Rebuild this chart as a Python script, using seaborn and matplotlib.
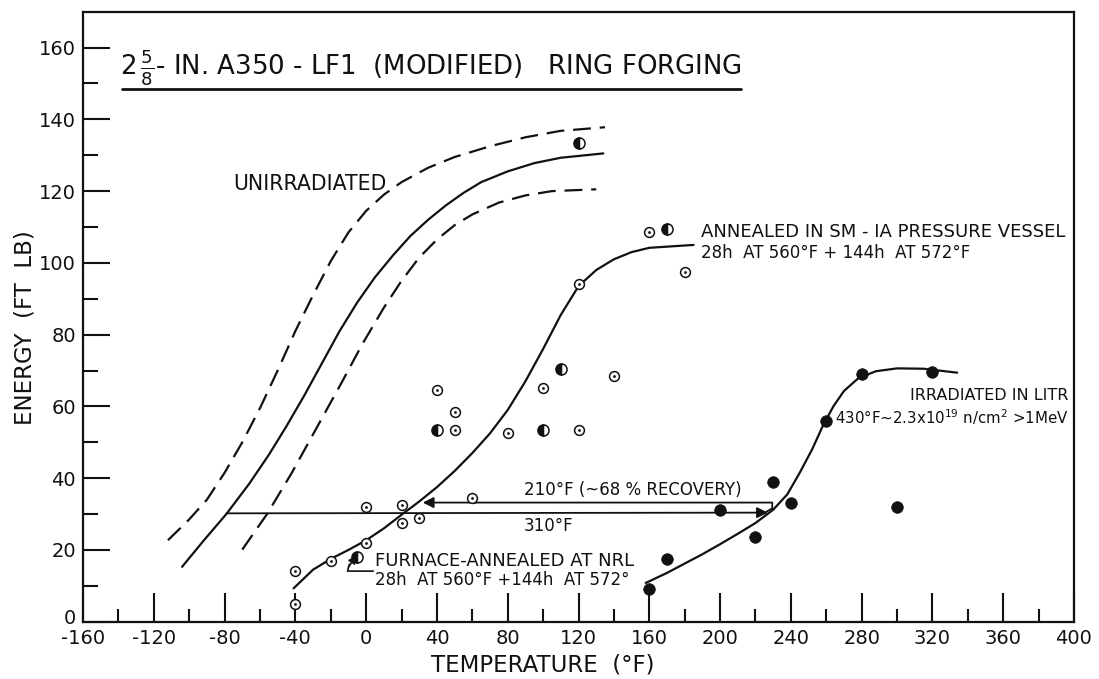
import matplotlib
matplotlib.use("Agg")
import matplotlib.pyplot as plt
import matplotlib.transforms as mtransforms
import seaborn as sns
import numpy as np

sns.set_style("white")
plt.rcParams['font.family'] = ['DejaVu Sans']
plt.rcParams['mathtext.fontset'] = 'dejavusans'

# ---- transition curves: temperature (°F) vs Charpy energy (ft-lb) ----
unirr_t = [-104, -92, -79, -66, -55, -45, -35, -25, -15, -5, 5, 15, 25, 35, 45, 55, 65, 80, 95, 110, 134]
unirr_e = [15.3, 22.5, 30, 38.5, 46.5, 54.5, 63, 72, 81, 89, 96, 102, 107.5, 112, 116, 119.5,
           122.5, 125.5, 127.8, 129.3, 130.5]

unirr_hi_t = [-112, -100, -90, -80, -70, -60, -50, -40, -30, -20, -10, 0, 10, 20, 35, 50, 70, 90, 110, 135]
unirr_hi_e = [22.7, 28.5, 34, 41.5, 50, 59.5, 70, 81, 91, 100.5, 108.5, 114.5, 119, 122.5, 126.5,
              129.5, 132.5, 135, 136.8, 137.8]

unirr_lo_t = [-70, -56, -42, -28, -14, -2, 10, 20, 30, 40, 50, 60, 75, 90, 105, 130]
unirr_lo_e = [20.1, 30, 41.5, 54, 66.5, 77.5, 87.5, 95, 101.5, 106.5, 110.5, 113.5, 116.8, 118.8,
              120, 120.5]

anneal_t = [-41, -30, -20, -10, 0, 10, 20, 30, 40, 50, 60, 70, 80, 90, 100, 110, 120, 130, 140,
            150, 160, 185]
anneal_e = [9.3, 14.5, 17.5, 20, 22.7, 26, 29.8, 33.5, 37.5, 42, 47, 52.5, 59, 67, 76, 85.5, 93.5,
            98, 101, 103, 104.2, 105]

irrad_t = [158, 170, 180, 190, 200, 210, 220, 230, 238, 245, 252, 258, 264, 270, 278, 288, 300, 315, 334]
irrad_e = [10.8, 13.6, 16.2, 18.8, 21.6, 24.5, 27.5, 31.2, 35.5, 41.5, 48, 54.5, 60, 64.3, 67.8,
           69.8, 70.6, 70.5, 69.4]

# ---- specimen results ----
open_t = [-40, -40, -20, 0, 0, 20, 20, 30, 60, 40, 50, 50, 80, 100, 120, 140, 120, 160, 180]
open_e = [14, 5, 17, 22, 32, 32.5, 27.5, 29, 34.5, 64.5, 58.5, 53.5, 52.5, 65, 53.5, 68.5, 94, 108.5, 97.5]

half_t = [40, 100, 110, 170, 120, -5]
half_e = [53.5, 53.5, 70.5, 109.5, 133.5, 18]

irr_pts_t = [160, 170, 200, 220, 230, 240, 260, 280, 320, 300]
irr_pts_e = [9, 17.5, 31, 23.5, 39, 33, 56, 69, 69.5, 32]

xticks = list(range(-160, 401, 40))
yticks = list(range(0, 161, 20))

W, H = 1099, 679
fig = plt.figure(figsize=(W / 100, H / 100), dpi=100)
L, R, B, T = 83, 1074, 621.7, 11.7
ax = fig.add_axes([L / W, 1 - B / H, (R - L) / W, (B - T) / H])

ink = "#111111"
lw = 1.6
sns.lineplot(x=unirr_t, y=unirr_e, sort=False, estimator=None, ax=ax, color=ink, lw=lw)
sns.lineplot(x=unirr_hi_t, y=unirr_hi_e, sort=False, estimator=None, ax=ax, color=ink, lw=lw,
             linestyle=(0, (8, 4)))
sns.lineplot(x=unirr_lo_t, y=unirr_lo_e, sort=False, estimator=None, ax=ax, color=ink, lw=lw,
             linestyle=(0, (8, 4)))
sns.lineplot(x=anneal_t, y=anneal_e, sort=False, estimator=None, ax=ax, color=ink, lw=lw)
sns.lineplot(x=irrad_t, y=irrad_e, sort=False, estimator=None, ax=ax, color=ink, lw=lw)

# 310 °F shift (unirradiated -> irradiated) and 210 °F recovery bracket
ax.annotate("", xy=(227, 30.4), xytext=(-79, 30.2),
            arrowprops=dict(arrowstyle="-|>", color=ink, lw=1.3, mutation_scale=16,
                            shrinkA=0, shrinkB=0))
ax.plot([226, 229.5, 229.5, 60], [30.6, 31.6, 33.2, 33.2], color=ink, lw=1.3)
ax.annotate("", xy=(32, 33.2), xytext=(62, 33.2),
            arrowprops=dict(arrowstyle="-|>", color=ink, lw=1.3, mutation_scale=16,
                            shrinkA=0, shrinkB=0))

# specimen markers
sns.scatterplot(x=open_t, y=open_e, ax=ax, marker="o", s=50, color="white",
                edgecolor=ink, linewidth=1.1, zorder=5)
sns.scatterplot(x=open_t, y=open_e, ax=ax, marker="o", s=4, color=ink,
                edgecolor=ink, linewidth=0, zorder=6)
sns.lineplot(x=half_t, y=half_e, ax=ax, sort=False, estimator=None, linestyle="",
             marker="o", markersize=8, fillstyle="left", markerfacecolor=ink,
             markerfacecoloralt="white", markeredgecolor=ink, markeredgewidth=1.1,
             color=ink, zorder=6)
sns.scatterplot(x=irr_pts_t, y=irr_pts_e, ax=ax, marker="o", s=70, color=ink,
                edgecolor=ink, linewidth=0.5, zorder=6)

# leader from the furnace-anneal note
ax.plot([4, -10.5, -9.5], [14.1, 14.1, 16], color=ink, lw=1.2)
ax.annotate("", xy=(-5.5, 18.5), xytext=(-10, 15.2),
            arrowprops=dict(arrowstyle="-|>", color=ink, lw=1.1, mutation_scale=12,
                            shrinkA=0, shrinkB=0))

# text notes
ax.text(-139, 154.2, r"2$\,\frac{5}{8}$- IN. A350 - LF1  (MODIFIED)   RING FORGING",
        fontsize=18.7, ha="left", va="center", color=ink)
ax.plot([-138, 212], [148.4, 148.4], color=ink, lw=2)
ax.text(-75, 122, "UNIRRADIATED", fontsize=14.8, ha="left", va="center", color=ink)
ax.text(189, 108.6, "ANNEALED IN SM - IA PRESSURE VESSEL", fontsize=13, ha="left",
        va="center", color=ink)
ax.text(189, 102.8, "28h  AT 560°F + 144h  AT 572°F", fontsize=12, ha="left",
        va="center", color=ink)
ax.text(397, 63, "IRRADIATED IN LITR", fontsize=11.5, ha="right", va="center", color=ink)
ax.text(397, 57, r"430°F~2.3x10$^{19}$ n/cm$^{2}$ >1MeV", fontsize=10.8, ha="right",
        va="center", color=ink)
ax.text(89, 36.6, "210°F (~68 % RECOVERY)", fontsize=12, ha="left", va="center", color=ink)
ax.text(89, 26.8, "310°F", fontsize=12, ha="left", va="center", color=ink)
ax.text(5, 16.8, "FURNACE-ANNEALED AT NRL", fontsize=13, ha="left", va="center", color=ink)
ax.text(5, 11.6, "28h  AT 560°F +144h  AT 572°", fontsize=12, ha="left", va="center",
        color=ink)

# axes
ax.set_xlim(-160, 400)
ax.set_ylim(0, 170)
ax.set_xticks(xticks)
ax.set_xticklabels([str(v) for v in xticks])
ax.set_xticks(np.arange(-140, 400, 40), minor=True)
ax.set_yticks(yticks)
ax.set_yticklabels([str(v) for v in yticks])
ax.set_yticks(np.arange(10, 170, 20), minor=True)
ax.tick_params(which="both", bottom=True, left=True, top=False, right=False,
               direction="in", width=1.5, colors=ink)
ax.tick_params(which="major", labelsize=14, pad=5)
ax.tick_params(axis="x", which="major", length=21)
ax.tick_params(axis="y", which="major", length=19.5)
ax.tick_params(axis="x", which="minor", length=9.5)
ax.tick_params(axis="y", which="minor", length=11)
for s in ax.spines.values():
    s.set_color(ink)
    s.set_linewidth(1.6)
ax.set_xlabel("")
ax.set_ylabel("")

# lift the y "0" a little so it clears the "-160" below it
zero = ax.get_yticklabels()[0]
zero.set_transform(zero.get_transform() +
                   mtransforms.ScaledTranslation(0, 4 / 72, fig.dpi_scale_trans))

fig.text(25 / W, 1 - 328 / H, "ENERGY  (FT  LB)", rotation=90, ha="center", va="center",
         fontsize=16.5, color=ink)
fig.text(543 / W, 1 - 665 / H, "TEMPERATURE  (°F)", ha="center", va="center",
         fontsize=16.5, color=ink)

fig.savefig("out.png", dpi=100, facecolor="white")
